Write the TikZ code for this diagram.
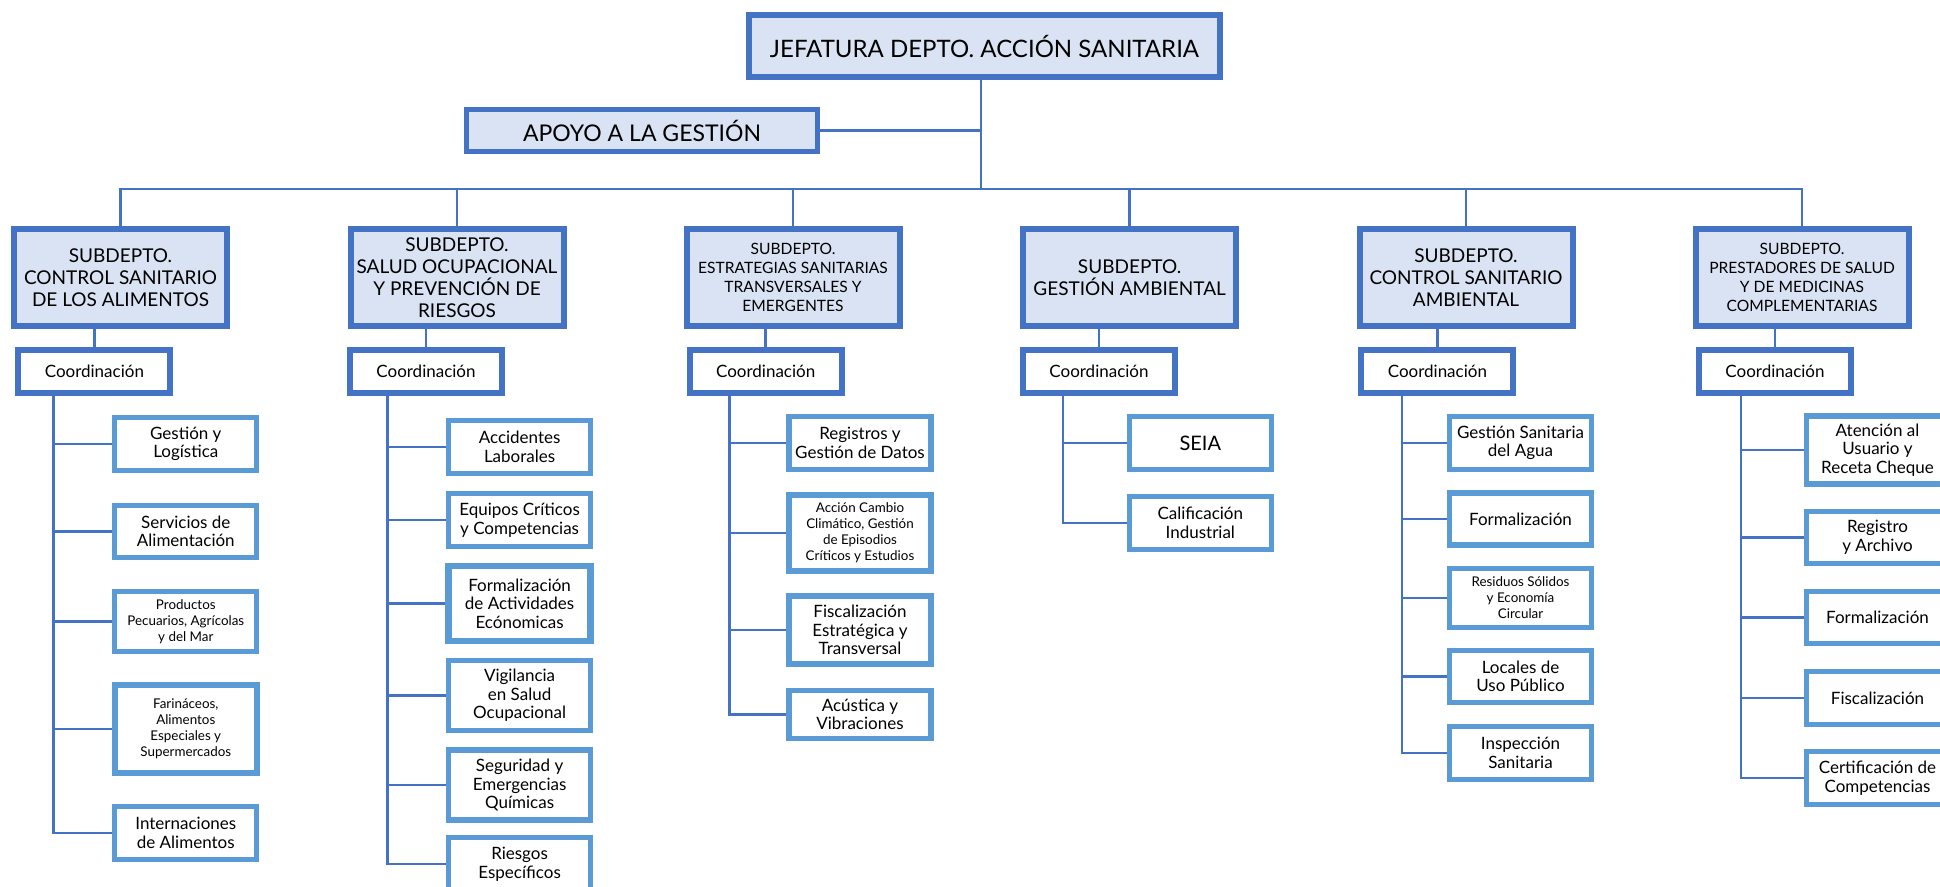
\documentclass[tikz,border=0pt]{standalone}
\usepackage{fontspec}
\setmainfont{Lato}
\usepackage{xcolor}
\definecolor{blue-700}{RGB}{68,114,196}
\definecolor{blue-400}{RGB}{91,155,213}
\definecolor{blue-100}{RGB}{218,227,243}
\usepackage{tikz}

\begin{document}
\begin{tikzpicture}[
    x=0.5pt, y=-0.5pt,
    head box/.style={
        draw=blue-700,
        line width=3pt,
        fill=blue-100,
        inner sep=0pt,
        align=center
    },
    top box/.style={head box, minimum width=235.5pt, minimum height=31pt,
        font=\fontsize{12}{14}\selectfont},
    support box/.style={head box, line width=2.5pt, minimum width=175.5pt, minimum height=21pt,
        font=\fontsize{11.5}{13}\selectfont},
    subdept box/.style={head box, minimum width=106.5pt, minimum height=48.5pt,
        font=\fontsize{9.5}{10.9}\selectfont},
    subdept small/.style={subdept box, font=\fontsize{7.8}{9.5}\selectfont},
    coord box/.style={
        draw=blue-700,
        line width=3pt,
        fill=white,
        inner sep=0pt,
        minimum width=76pt,
        minimum height=21.5pt,
        font=\fontsize{8.5}{10}\selectfont
    },
    unit box/.style={
        draw=blue-400,
        line width=2.6pt,
        fill=white,
        inner sep=0pt,
        minimum width=71pt,
        align=center,
        font=\fontsize{8.5}{9.3}\selectfont
    },
    unit small/.style={unit box, font=\fontsize{6.7}{8}\selectfont},
    link/.style={draw=blue-700, line width=1.3pt}
]

\clip (0,0) rectangle (1940,887);
\fill[white] (0,0) rectangle (1940,887);

% Jefatura and support
\node[top box] (jefatura) at (984.5,46) {JEFATURA DEPTO. ACCIÓN SANITARIA};
\node[support box] (apoyo) at (642,130.5) {APOYO A LA GESTIÓN};

% Subdepartments
\node[subdept box] (sub1) at (120.5,277.5) {SUBDEPTO.\\CONTROL SANITARIO\\DE LOS ALIMENTOS};
\node[subdept box] (sub2) at (457,277.5) {SUBDEPTO.\\SALUD OCUPACIONAL\\Y PREVENCIÓN DE\\RIESGOS};
\node[subdept small] (sub3) at (793,277.5) {SUBDEPTO.\\ESTRATEGIAS SANITARIAS\\TRANSVERSALES Y\\EMERGENTES};
\node[subdept box] (sub4) at (1129.6,277.5) {SUBDEPTO.\\GESTIÓN AMBIENTAL};
\node[subdept box] (sub5) at (1466,277.5) {SUBDEPTO.\\CONTROL SANITARIO\\AMBIENTAL};
\node[subdept small] (sub6) at (1802,277.5) {SUBDEPTO.\\PRESTADORES DE SALUD\\Y DE MEDICINAS\\COMPLEMENTARIAS};

% Coordination
\node[coord box] (coord1) at (94.4,371.5) {Coordinación};
\node[coord box] (coord2) at (426,371.5) {Coordinación};
\node[coord box] (coord3) at (765.7,371.5) {Coordinación};
\node[coord box] (coord4) at (1099,371.5) {Coordinación};
\node[coord box] (coord5) at (1437.4,371.5) {Coordinación};
\node[coord box] (coord6) at (1775,371.5) {Coordinación};

% Units, control sanitario de los alimentos
\node[unit box, minimum height=26.5pt] (u1a) at (185.8,444) {Gestión y\\Logística};
\node[unit box, minimum height=26pt] (u1b) at (185.8,531.5) {Servicios de\\Alimentación};
\node[unit small, minimum height=30pt] (u1c) at (185.8,621.5) {Productos\\Pecuarios, Agrícolas\\y del Mar};
\node[unit small, line width=3.2pt, minimum height=44pt] (u1d) at (185.8,729) {Farináceos,\\Alimentos\\Especiales y\\Supermercados};
\node[unit box, minimum height=26.5pt] (u1e) at (185.8,833) {Internaciones\\de Alimentos};

% Units, salud ocupacional
\node[unit box, minimum height=26.5pt] (u2a) at (519.6,447) {Accidentes\\Laborales};
\node[unit box, minimum height=26.5pt] (u2b) at (519.6,520) {Equipos Críticos\\y Competencias};
\node[unit box, line width=3.2pt, minimum height=37.5pt] (u2c) at (519.6,603.7) {Formalización\\de Actividades\\Ecónomicas};
\node[unit box, minimum height=35pt] (u2d) at (519.6,695.5) {Vigilancia\\en Salud\\Ocupacional};
\node[unit box, minimum height=35pt] (u2e) at (519.6,785) {Seguridad y\\Emergencias\\Químicas};
\node[unit box, minimum height=26.5pt] (u2f) at (519.6,864) {Riesgos\\Específicos};

% Units, estrategias sanitarias
\node[unit box, minimum height=26.5pt] (u3a) at (860,443) {Registros y\\Gestión de Datos};
\node[unit small, line width=3.2pt, minimum height=38pt] (u3b) at (860,533) {Acción Cambio\\Climático, Gestión\\de Episodios\\Críticos y Estudios};
\node[unit box, minimum height=34pt] (u3c) at (860,630) {Fiscalización\\Estratégica y\\Transversal};
\node[unit box, minimum height=24pt] (u3d) at (860,714.4) {Acústica y\\Vibraciones};

% Units, gestion ambiental
\node[unit box, minimum height=26.5pt, font=\fontsize{10}{11}\selectfont] (u4a) at (1200.3,443) {SEIA};
\node[unit box, minimum height=26.5pt] (u4b) at (1200.3,523) {Calificación\\Industrial};

% Units, control sanitario ambiental
\node[unit box, minimum height=26.5pt] (u5a) at (1520.5,443) {Gestión Sanitaria\\del Agua};
\node[unit box, minimum height=26pt] (u5b) at (1520.5,519) {Formalización};
\node[unit small, minimum height=29.5pt] (u5c) at (1520.5,598) {Residuos Sólidos\\y Economía\\Circular};
\node[unit box, minimum height=26pt] (u5d) at (1520.5,676.5) {Locales de\\Uso Público};
\node[unit box, minimum height=26.5pt] (u5e) at (1520.5,753) {Inspección\\Sanitaria};

% Units, prestadores de salud
\node[unit box, minimum height=34pt] (u6a) at (1877.5,450) {Atención al\\Usuario y\\Receta Cheque};
\node[unit box, minimum height=26pt] (u6b) at (1877.5,537.5) {Registro\\y Archivo};
\node[unit box, minimum height=26pt] (u6c) at (1877.5,617.5) {Formalización};
\node[unit box, minimum height=26.5pt] (u6d) at (1877.5,698) {Fiscalización};
\node[unit box, minimum height=26.5pt] (u6e) at (1877.5,778) {Certificación de\\Competencias};

% Top links
\coordinate (bus) at (981,189);
\draw[link] (bus |- jefatura.south) -- (bus);
\draw[link] (apoyo.east) -- (apoyo.east -| bus);
\draw[link] (bus) -| (sub1.north) (bus) -| (sub2.north) (bus) -| (sub3.north)
    (bus) -| (sub4.north) (bus) -| (sub5.north) (bus) -| (sub6.north);

% Subdepartment to coordination
\draw[link] (coord1.north) -- (coord1.north |- sub1.south);
\draw[link] (coord2.north) -- (coord2.north |- sub2.south);
\draw[link] (coord3.north) -- (coord3.north |- sub3.south);
\draw[link] (coord4.north) -- (coord4.north |- sub4.south);
\draw[link] (coord5.north) -- (coord5.north |- sub5.south);
\draw[link] (coord6.north) -- (coord6.north |- sub6.south);

% Coordination to units
\coordinate (v1) at (53.6,396);
\coordinate (v2) at (387.5,396);
\coordinate (v3) at (729.3,396);
\coordinate (v4) at (1062.8,396);
\coordinate (v5) at (1402,396);
\coordinate (v6) at (1740.8,396);
\draw[link] (v1) |- (u1a.west) (v1) |- (u1b.west) (v1) |- (u1c.west) (v1) |- (u1d.west) (v1) |- (u1e.west);
\draw[link] (v2) |- (u2a.west) (v2) |- (u2b.west) (v2) |- (u2c.west) (v2) |- (u2d.west) (v2) |- (u2e.west) (v2) |- (u2f.west);
\draw[link] (v3) |- (u3a.west) (v3) |- (u3b.west) (v3) |- (u3c.west) (v3) |- (u3d.west);
\draw[link] (v4) |- (u4a.west) (v4) |- (u4b.west);
\draw[link] (v5) |- (u5a.west) (v5) |- (u5b.west) (v5) |- (u5c.west) (v5) |- (u5d.west) (v5) |- (u5e.west);
\draw[link] (v6) |- (u6a.west) (v6) |- (u6b.west) (v6) |- (u6c.west) (v6) |- (u6d.west) (v6) |- (u6e.west);

\end{tikzpicture}
\end{document}
